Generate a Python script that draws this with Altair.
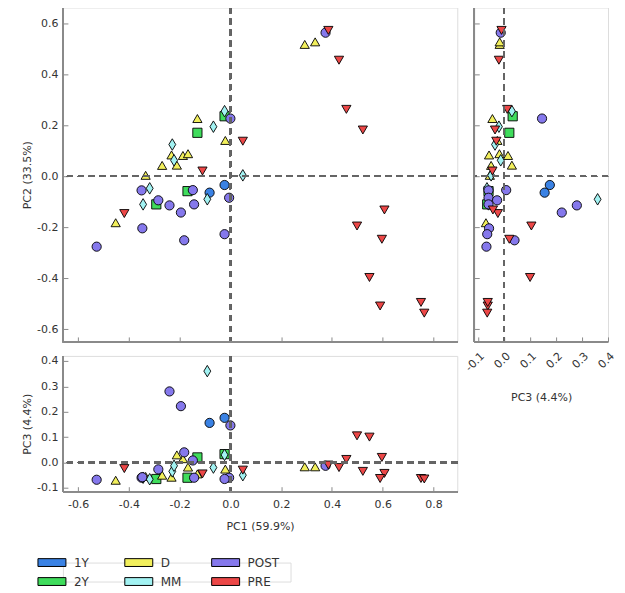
import altair as alt
import pandas as pd

# ---- data ----
groups = (["1Y"] * 2 + ["2Y"] * 4 + ["D"] * 11 + ["MM"] * 8 + ["POST"] * 13 + ["PRE"] * 14)
pc1 = [-0.023, -0.082,
       -0.13, -0.023, -0.169, -0.292,
       -0.13, -0.02, -0.232, -0.187, -0.167, -0.211, -0.269, -0.334, -0.452, 0.293, 0.334,
       -0.023, -0.067, -0.229, -0.222, 0.049, -0.318, -0.091, -0.344,
       0.0, -0.35, -0.148, -0.005, -0.284, -0.24, -0.143, -0.195, -0.347, -0.182, -0.023, -0.527, 0.375,
       0.049, -0.11, -0.418, 0.386, 0.428, 0.457, 0.522, 0.607, 0.499, 0.597, 0.548, 0.59, 0.751, 0.764]
pc2 = [-0.034, -0.064,
       0.171, 0.236, -0.058, -0.11,
       0.227, 0.141, 0.084, 0.082, 0.089, 0.044, 0.043, 0.004, -0.182, 0.518, 0.528,
       0.256, 0.195, 0.125, 0.063, 0.004, -0.047, -0.09, -0.11,
       0.227, -0.055, -0.054, -0.084, -0.094, -0.114, -0.11, -0.142, -0.204, -0.251, -0.227, -0.276, 0.564,
       0.138, 0.021, -0.146, 0.573, 0.456, 0.263, 0.182, -0.132, -0.195, -0.247, -0.397, -0.509, -0.495, -0.537]
pc3 = [0.176, 0.156,
       0.02, 0.033, -0.06, -0.065,
       -0.045, -0.026, -0.058, 0.015, -0.018, 0.03, -0.05, -0.055, -0.07, -0.017, -0.017,
       0.03, -0.02, -0.035, -0.013, -0.05, -0.066, 0.36, -0.06,
       0.146, -0.06, 0.008, -0.06, -0.027, 0.28, -0.06, 0.222, -0.058, 0.04, -0.065, -0.068, -0.013,
       -0.03, -0.045, -0.024, -0.01, -0.02, 0.012, -0.035, -0.043, 0.105, 0.02, 0.1, -0.063, -0.063, -0.065]

legend_order = ["1Y", "D", "POST", "2Y", "MM", "PRE"]
legend_col = [0, 1, 2, 0, 1, 2]
legend_row = [0, 0, 0, 1, 1, 1]
colors = ["#3a82e4", "#f2ef5c", "#8578ec", "#3fdc5c", "#a2f2f2", "#ec4747"]
thin_diamond = "M0,-1.25L0.75,0L0,1.25L-0.75,0Z"
shapes = ["circle", "triangle-up", "circle", "square", thin_diamond, "triangle-down"]
legend_rect = "M-1,-0.28H1V0.28H-1Z"

pc1_ticks = [-0.6, -0.4, -0.2, 0.0, 0.2, 0.4, 0.6, 0.8]
pc2_ticks = [-0.6, -0.4, -0.2, 0.0, 0.2, 0.4, 0.6]
pc3_ticks = [-0.1, 0.0, 0.1, 0.2, 0.3, 0.4]

df = pd.DataFrame({"group": groups, "PC1": pc1, "PC2": pc2, "PC3": pc3})
df["order"] = range(len(df))
leg_df = pd.DataFrame({"group": legend_order, "col": legend_col, "row": legend_row})

LABEL_EXPR = "replace(format(datum.value, '.1f'), '\u2212', '-')"
AX = "#8a8a8a"
FILL_SCALE = alt.Scale(domain=legend_order, range=colors)


def make_axis(values, labels, title, angle=None, label_pad=5, title_pad=4):
    kw = dict(values=values, tickCount=40, domain=False, grid=False, ticks=True, tickSize=5,
              offset=-5, tickColor=AX, tickWidth=1, labels=labels, labelExpr=LABEL_EXPR,
              labelColor="#333333", labelFontSize=11, labelPadding=label_pad, labelOverlap=False,
              labelFlush=False, labelBound=False,
              titleFontSize=11, titleFontWeight="normal", titleColor="#333333",
              titlePadding=title_pad)
    kw["title"] = title if title else None
    if angle is not None:
        kw["labelAngle"] = angle
    return alt.Axis(**kw)


def panel(xf, yf, xdom, ydom, w, h, xticks, yticks, xlabels, ylabels, xtitle, ytitle,
          xangle=None, xlabel_pad=5, xtitle_pad=4):
    base = alt.Chart(df)
    pts = base.mark_point(filled=True, size=85, opacity=1, stroke="black", strokeWidth=0.9).encode(
        x=alt.X(f"{xf}:Q", scale=alt.Scale(domain=xdom, nice=False, zero=False),
                axis=make_axis(xticks, xlabels, xtitle, xangle, xlabel_pad, xtitle_pad)),
        y=alt.Y(f"{yf}:Q", scale=alt.Scale(domain=ydom, nice=False, zero=False),
                axis=make_axis(yticks, ylabels, ytitle)),
        fill=alt.Fill("group:N", scale=FILL_SCALE, legend=None),
        shape=alt.Shape("group:N", scale=alt.Scale(domain=legend_order, range=shapes),
                        legend=None),
        order=alt.Order("order:Q"),
    )
    vline = base.mark_rule(strokeDash=[6, 5], color="#666666", strokeWidth=1.4).encode(x=alt.datum(0))
    hline = base.mark_rule(strokeDash=[6, 5], color="#666666", strokeWidth=1.4).encode(y=alt.datum(0))
    left = base.mark_rule(color=AX, strokeWidth=1.2).encode(
        x=alt.value(0), y=alt.value(0), y2=alt.value(h))
    bottom = base.mark_rule(color=AX, strokeWidth=1.2).encode(
        y=alt.value(h), x=alt.value(0), x2=alt.value(w))
    return alt.layer(pts, vline, hline, left, bottom).properties(width=w, height=h)


W_MAIN, H_MAIN = 395, 335
W_RIGHT, H_BOT = 134, 136
dom_pc1 = [-0.66, 0.894]
dom_pc2 = [-0.65, 0.663]
dom_pc3_x = [-0.115, 0.4]
dom_pc3_y = [-0.115, 0.42]

main = panel("PC1", "PC2", dom_pc1, dom_pc2, W_MAIN, H_MAIN, pc1_ticks, pc2_ticks,
             False, True, None, "PC2 (33.5%)")
right = panel("PC3", "PC2", dom_pc3_x, dom_pc2, W_RIGHT, H_MAIN, pc3_ticks, pc2_ticks,
              True, False, "PC3 (4.4%)", None, xangle=315, xlabel_pad=8, xtitle_pad=19)
bottom = panel("PC1", "PC3", dom_pc1, dom_pc3_y, W_MAIN, H_BOT, pc1_ticks, pc3_ticks,
               True, True, "PC1 (59.9%)", "PC3 (4.4%)", xlabel_pad=7, xtitle_pad=11)

# legend drawn as its own small chart, from the legend arrays
leg_base = alt.Chart(leg_df).encode(
    x=alt.X("col:Q", axis=None, scale=alt.Scale(domain=[0.1264, 2.7471], nice=False, zero=False)),
    y=alt.Y("row:O", axis=None, scale=alt.Scale(padding=0)),
)
leg_sym = leg_base.mark_point(shape=legend_rect, size=784, filled=True, opacity=1,
                              stroke="black", strokeWidth=1).encode(
    fill=alt.Fill("group:N", scale=FILL_SCALE, legend=None))
leg_txt = leg_base.mark_text(align="left", baseline="middle", dx=22, fontSize=12,
                             color="#333333").encode(text="group:N")
legend_chart = alt.layer(leg_sym, leg_txt).properties(width=228, height=19)

grid = alt.concat(main, right, bottom, columns=2, spacing={"row": 14, "column": 17},
                  bounds="flush")

chart = alt.vconcat(grid, legend_chart, spacing=23).properties(
    padding={"left": 13, "top": -3, "right": 0, "bottom": 0}
).configure_view(stroke=None, strokeWidth=0).configure(
    font="DejaVu Sans"
).configure_axis(labelOverlap=False)

chart.save("out.html", embed_options={"renderer": "svg", "actions": False})
